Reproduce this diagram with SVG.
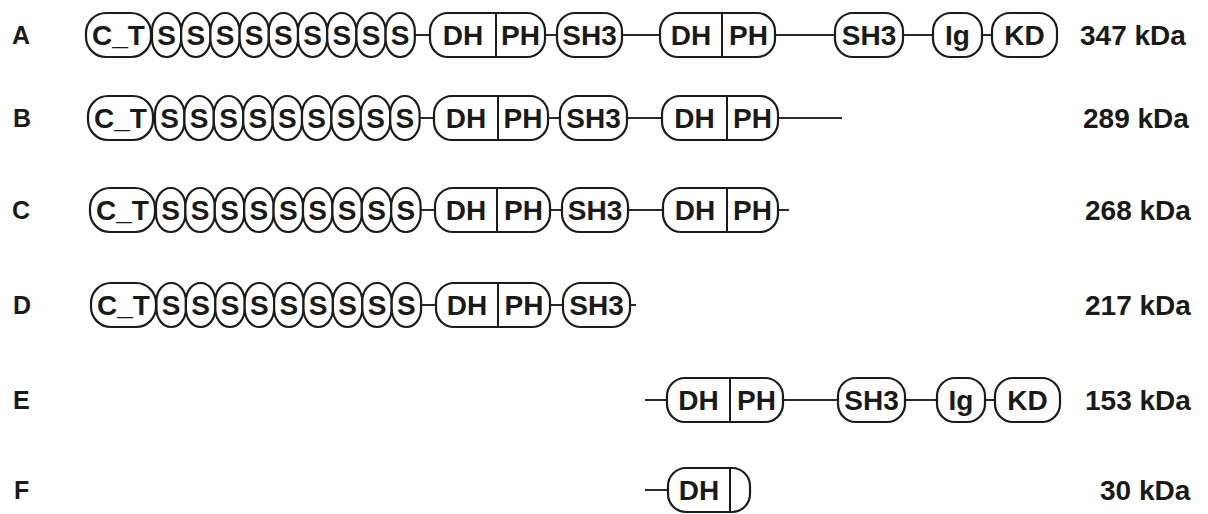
<svg xmlns="http://www.w3.org/2000/svg" width="1208" height="514" viewBox="0 0 1208 514">
  <style>
    .dom { fill: #fff; stroke: #1c1c1c; stroke-width: 2.2; }
    .div { stroke: #1c1c1c; stroke-width: 2; }
    .t { font-family: "Liberation Sans", Arial, Helvetica, sans-serif; font-weight: bold; font-size: 28px; fill: #1a1a1a; text-anchor: middle; }
    .row { font-family: "Liberation Sans", Arial, Helvetica, sans-serif; font-weight: bold; font-size: 25px; fill: #1a1a1a; }
    .mw { font-family: "Liberation Sans", Arial, Helvetica, sans-serif; font-weight: bold; font-size: 28px; fill: #1a1a1a; }
    #connectors line { stroke: #2a2a2a; stroke-width: 2; }
  </style>
  <rect width="1208" height="514" fill="#fff"/>

  <!-- linkers between domains -->
  <g id="connectors">
    <line x1="414" y1="35" x2="431" y2="35"/>
    <line x1="545" y1="35" x2="557" y2="35"/>
    <line x1="622" y1="35" x2="660" y2="35"/>
    <line x1="775" y1="35" x2="835" y2="35"/>
    <line x1="903" y1="35" x2="933" y2="35"/>
    <line x1="982" y1="35" x2="992" y2="35"/>

    <line x1="419" y1="118" x2="434" y2="118"/>
    <line x1="548" y1="118" x2="560" y2="118"/>
    <line x1="627" y1="118" x2="662" y2="118"/>
    <line x1="778" y1="118" x2="842" y2="118"/>

    <line x1="420" y1="210" x2="435" y2="210"/>
    <line x1="550" y1="210" x2="562" y2="210"/>
    <line x1="628" y1="210" x2="663" y2="210"/>
    <line x1="778" y1="210" x2="789" y2="210"/>

    <line x1="421" y1="305" x2="436" y2="305"/>
    <line x1="550" y1="305" x2="563" y2="305"/>
    <line x1="630" y1="305" x2="636" y2="305"/>

    <line x1="645" y1="400" x2="667" y2="400"/>
    <line x1="783" y1="400" x2="838" y2="400"/>
    <line x1="905" y1="400" x2="937" y2="400"/>
    <line x1="985" y1="400" x2="995" y2="400"/>

    <line x1="645" y1="490" x2="668" y2="490"/>
  </g>

  <!-- A -->
  <g id="row-a">
    <text class="row" x="12" y="44">A</text>
    <g id="a-ct"><rect class="dom" x="86" y="13" width="65" height="44" rx="20"/><text class="t" x="118.5" y="45">C_T</text></g>
    <g id="a-s1"><rect class="dom" x="152" y="13" width="29.2" height="44" rx="14.5" ry="18"/><text class="t" x="166.6" y="45">S</text></g>
    <g id="a-s2"><rect class="dom" x="181.2" y="13" width="29.2" height="44" rx="14.5" ry="18"/><text class="t" x="195.8" y="45">S</text></g>
    <g id="a-s3"><rect class="dom" x="210.4" y="13" width="29.2" height="44" rx="14.5" ry="18"/><text class="t" x="225" y="45">S</text></g>
    <g id="a-s4"><rect class="dom" x="239.6" y="13" width="29.2" height="44" rx="14.5" ry="18"/><text class="t" x="254.2" y="45">S</text></g>
    <g id="a-s5"><rect class="dom" x="268.8" y="13" width="29.2" height="44" rx="14.5" ry="18"/><text class="t" x="283.4" y="45">S</text></g>
    <g id="a-s6"><rect class="dom" x="298" y="13" width="29.2" height="44" rx="14.5" ry="18"/><text class="t" x="312.6" y="45">S</text></g>
    <g id="a-s7"><rect class="dom" x="327.2" y="13" width="29.2" height="44" rx="14.5" ry="18"/><text class="t" x="341.8" y="45">S</text></g>
    <g id="a-s8"><rect class="dom" x="356.4" y="13" width="29.2" height="44" rx="14.5" ry="18"/><text class="t" x="371" y="45">S</text></g>
    <g id="a-s9"><rect class="dom" x="385.6" y="13" width="29.2" height="44" rx="14.5" ry="18"/><text class="t" x="400.2" y="45">S</text></g>
    <g id="a-dhph1"><rect class="dom" x="430" y="13" width="115" height="44" rx="18"/><line class="div" x1="496" y1="13" x2="496" y2="57"/><text class="t" x="463" y="45">DH</text><text class="t" x="520.5" y="45">PH</text></g>
    <g id="a-sh3a"><rect class="dom" x="557" y="13" width="65" height="44" rx="18"/><text class="t" x="589.5" y="45">SH3</text></g>
    <g id="a-dhph2"><rect class="dom" x="660" y="13" width="115" height="44" rx="18"/><line class="div" x1="722" y1="13" x2="722" y2="57"/><text class="t" x="691" y="45">DH</text><text class="t" x="748.5" y="45">PH</text></g>
    <g id="a-sh3b"><rect class="dom" x="835" y="13" width="68" height="44" rx="18"/><text class="t" x="869" y="45">SH3</text></g>
    <g id="a-ig"><rect class="dom" x="933" y="13" width="49" height="44" rx="18"/><text class="t" x="957.5" y="45">Ig</text></g>
    <g id="a-kd"><rect class="dom" x="992" y="13" width="65" height="44" rx="18"/><text class="t" x="1024.5" y="45">KD</text></g>
    <text class="mw" x="1080" y="45">347 kDa</text>
  </g>

  <!-- B -->
  <g id="row-b">
    <text class="row" x="13" y="127">B</text>
    <g id="b-ct"><rect class="dom" x="88" y="96" width="65" height="44" rx="20"/><text class="t" x="120.5" y="128">C_T</text></g>
    <g id="b-s1"><rect class="dom" x="155" y="96" width="29.4" height="44" rx="14.5" ry="18"/><text class="t" x="169.7" y="128">S</text></g>
    <g id="b-s2"><rect class="dom" x="184.4" y="96" width="29.4" height="44" rx="14.5" ry="18"/><text class="t" x="199.1" y="128">S</text></g>
    <g id="b-s3"><rect class="dom" x="213.8" y="96" width="29.4" height="44" rx="14.5" ry="18"/><text class="t" x="228.5" y="128">S</text></g>
    <g id="b-s4"><rect class="dom" x="243.2" y="96" width="29.4" height="44" rx="14.5" ry="18"/><text class="t" x="257.9" y="128">S</text></g>
    <g id="b-s5"><rect class="dom" x="272.6" y="96" width="29.4" height="44" rx="14.5" ry="18"/><text class="t" x="287.3" y="128">S</text></g>
    <g id="b-s6"><rect class="dom" x="302" y="96" width="29.4" height="44" rx="14.5" ry="18"/><text class="t" x="316.7" y="128">S</text></g>
    <g id="b-s7"><rect class="dom" x="331.4" y="96" width="29.4" height="44" rx="14.5" ry="18"/><text class="t" x="346.1" y="128">S</text></g>
    <g id="b-s8"><rect class="dom" x="360.8" y="96" width="29.4" height="44" rx="14.5" ry="18"/><text class="t" x="375.5" y="128">S</text></g>
    <g id="b-s9"><rect class="dom" x="390.2" y="96" width="29.4" height="44" rx="14.5" ry="18"/><text class="t" x="404.9" y="128">S</text></g>
    <g id="b-dhph1"><rect class="dom" x="434" y="96" width="114" height="44" rx="18"/><line class="div" x1="498" y1="96" x2="498" y2="140"/><text class="t" x="466" y="128">DH</text><text class="t" x="523" y="128">PH</text></g>
    <g id="b-sh3"><rect class="dom" x="560" y="96" width="67" height="44" rx="18"/><text class="t" x="593.5" y="128">SH3</text></g>
    <g id="b-dhph2"><rect class="dom" x="662" y="96" width="116" height="44" rx="18"/><line class="div" x1="727" y1="96" x2="727" y2="140"/><text class="t" x="694.5" y="128">DH</text><text class="t" x="752.5" y="128">PH</text></g>
    <text class="mw" x="1083" y="128">289 kDa</text>
  </g>

  <!-- C -->
  <g id="row-c">
    <text class="row" x="12" y="219">C</text>
    <g id="c-ct"><rect class="dom" x="90" y="188" width="65" height="44" rx="20"/><text class="t" x="122.5" y="220">C_T</text></g>
    <g id="c-s1"><rect class="dom" x="156" y="188" width="29.4" height="44" rx="14.5" ry="18"/><text class="t" x="170.7" y="220">S</text></g>
    <g id="c-s2"><rect class="dom" x="185.4" y="188" width="29.4" height="44" rx="14.5" ry="18"/><text class="t" x="200.1" y="220">S</text></g>
    <g id="c-s3"><rect class="dom" x="214.8" y="188" width="29.4" height="44" rx="14.5" ry="18"/><text class="t" x="229.5" y="220">S</text></g>
    <g id="c-s4"><rect class="dom" x="244.2" y="188" width="29.4" height="44" rx="14.5" ry="18"/><text class="t" x="258.9" y="220">S</text></g>
    <g id="c-s5"><rect class="dom" x="273.6" y="188" width="29.4" height="44" rx="14.5" ry="18"/><text class="t" x="288.3" y="220">S</text></g>
    <g id="c-s6"><rect class="dom" x="303" y="188" width="29.4" height="44" rx="14.5" ry="18"/><text class="t" x="317.7" y="220">S</text></g>
    <g id="c-s7"><rect class="dom" x="332.4" y="188" width="29.4" height="44" rx="14.5" ry="18"/><text class="t" x="347.1" y="220">S</text></g>
    <g id="c-s8"><rect class="dom" x="361.8" y="188" width="29.4" height="44" rx="14.5" ry="18"/><text class="t" x="376.5" y="220">S</text></g>
    <g id="c-s9"><rect class="dom" x="391.2" y="188" width="29.4" height="44" rx="14.5" ry="18"/><text class="t" x="405.9" y="220">S</text></g>
    <g id="c-dhph1"><rect class="dom" x="435" y="188" width="115" height="44" rx="18"/><line class="div" x1="497" y1="188" x2="497" y2="232"/><text class="t" x="466" y="220">DH</text><text class="t" x="523.5" y="220">PH</text></g>
    <g id="c-sh3"><rect class="dom" x="562" y="188" width="66" height="44" rx="18"/><text class="t" x="595" y="220">SH3</text></g>
    <g id="c-dhph2"><rect class="dom" x="663" y="188" width="115" height="44" rx="18"/><line class="div" x1="727" y1="188" x2="727" y2="232"/><text class="t" x="695" y="220">DH</text><text class="t" x="752.5" y="220">PH</text></g>
    <text class="mw" x="1085" y="220">268 kDa</text>
  </g>

  <!-- D -->
  <g id="row-d">
    <text class="row" x="13" y="314">D</text>
    <g id="d-ct"><rect class="dom" x="91" y="283" width="65" height="44" rx="20"/><text class="t" x="123.5" y="315">C_T</text></g>
    <g id="d-s1"><rect class="dom" x="156.5" y="283" width="29.4" height="44" rx="14.5" ry="18"/><text class="t" x="171.2" y="315">S</text></g>
    <g id="d-s2"><rect class="dom" x="185.9" y="283" width="29.4" height="44" rx="14.5" ry="18"/><text class="t" x="200.6" y="315">S</text></g>
    <g id="d-s3"><rect class="dom" x="215.3" y="283" width="29.4" height="44" rx="14.5" ry="18"/><text class="t" x="230" y="315">S</text></g>
    <g id="d-s4"><rect class="dom" x="244.7" y="283" width="29.4" height="44" rx="14.5" ry="18"/><text class="t" x="259.4" y="315">S</text></g>
    <g id="d-s5"><rect class="dom" x="274.1" y="283" width="29.4" height="44" rx="14.5" ry="18"/><text class="t" x="288.8" y="315">S</text></g>
    <g id="d-s6"><rect class="dom" x="303.5" y="283" width="29.4" height="44" rx="14.5" ry="18"/><text class="t" x="318.2" y="315">S</text></g>
    <g id="d-s7"><rect class="dom" x="332.9" y="283" width="29.4" height="44" rx="14.5" ry="18"/><text class="t" x="347.6" y="315">S</text></g>
    <g id="d-s8"><rect class="dom" x="362.3" y="283" width="29.4" height="44" rx="14.5" ry="18"/><text class="t" x="377" y="315">S</text></g>
    <g id="d-s9"><rect class="dom" x="391.7" y="283" width="29.4" height="44" rx="14.5" ry="18"/><text class="t" x="406.4" y="315">S</text></g>
    <g id="d-dhph"><rect class="dom" x="436" y="283" width="114" height="44" rx="18"/><line class="div" x1="498" y1="283" x2="498" y2="327"/><text class="t" x="467" y="315">DH</text><text class="t" x="524" y="315">PH</text></g>
    <g id="d-sh3"><rect class="dom" x="563" y="283" width="67" height="44" rx="18"/><text class="t" x="596.5" y="315">SH3</text></g>
    <text class="mw" x="1085" y="315">217 kDa</text>
  </g>

  <!-- E -->
  <g id="row-e">
    <text class="row" x="13" y="409">E</text>
    <g id="e-dhph"><rect class="dom" x="667" y="378" width="116" height="44" rx="18"/><line class="div" x1="730" y1="378" x2="730" y2="422"/><text class="t" x="698.5" y="410">DH</text><text class="t" x="756.5" y="410">PH</text></g>
    <g id="e-sh3"><rect class="dom" x="838" y="378" width="67" height="44" rx="18"/><text class="t" x="871.5" y="410">SH3</text></g>
    <g id="e-ig"><rect class="dom" x="937" y="378" width="48" height="44" rx="18"/><text class="t" x="961" y="410">Ig</text></g>
    <g id="e-kd"><rect class="dom" x="995" y="378" width="65" height="44" rx="18"/><text class="t" x="1027.5" y="410">KD</text></g>
    <text class="mw" x="1085" y="410">153 kDa</text>
  </g>

  <!-- F -->
  <g id="row-f">
    <text class="row" x="14" y="499">F</text>
    <g id="f-dh"><rect class="dom" x="668" y="468" width="82" height="44" rx="18"/><line class="div" x1="730" y1="468" x2="730" y2="512"/><text class="t" x="699" y="500">DH</text></g>
    <text class="mw" x="1100" y="500">30 kDa</text>
  </g>
</svg>
